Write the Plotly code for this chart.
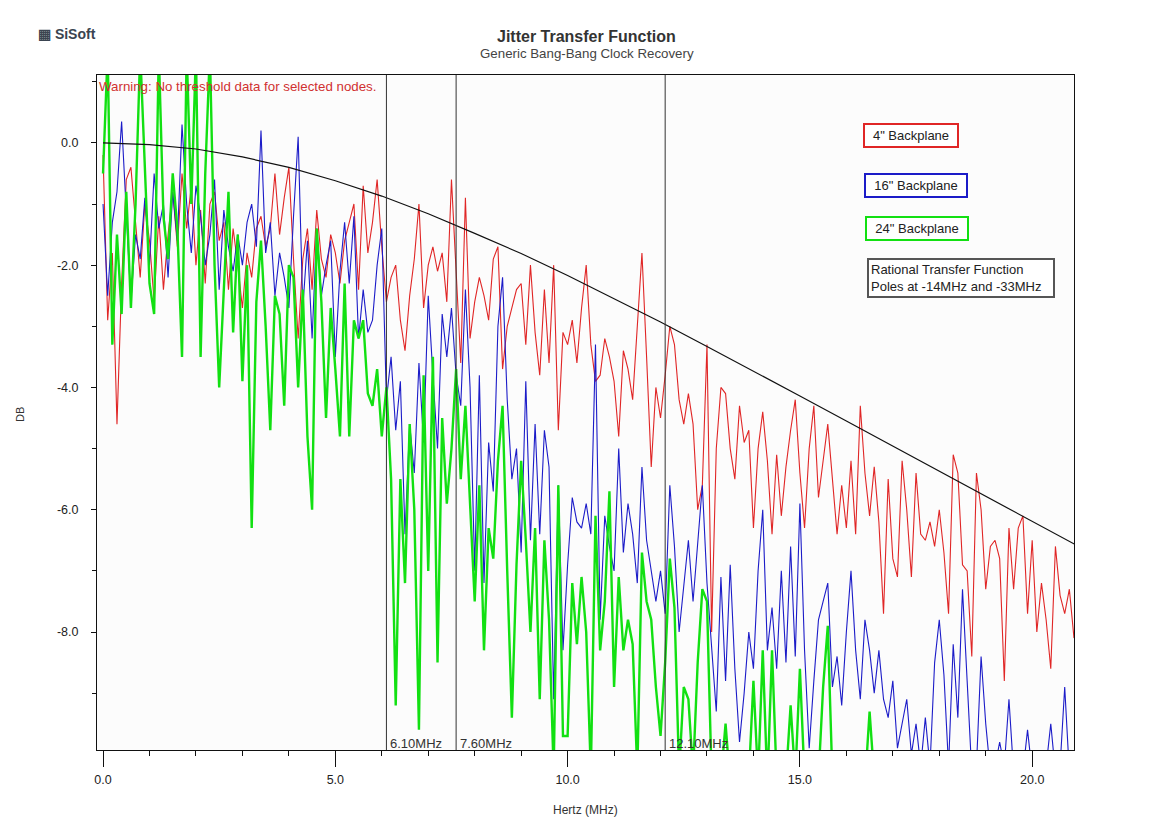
import plotly.graph_objects as go

# ---------------- data ----------------
freq_start_mhz = 0.0
freq_step_mhz = 0.1

red_4in = [
    -0.2, -2.9, -1.8, -4.6, -2.3, -0.6, -0.4, -1.3, -2.2, -1.0,
    -1.6, -2.6, -1.2, -2.4, -1.5, -0.8, -1.7, -0.5, -1.4, -0.7,
    -2.0, -1.1, -2.3, -1.0, -0.8, -1.6, -1.3, -2.4, -1.4, -2.0,
    -2.7, -1.8, -2.2, -1.4, -1.2, -1.7, -1.4, -0.5, -1.5, -0.9,
    -0.4, -1.9, -3.2, -1.9, -1.4, -2.4, -1.1, -1.9, -2.2, -1.5,
    -1.8, -2.3, -1.6, -1.3, -1.0, -2.4, -0.7, -1.8, -1.3, -0.6,
    -1.7, -2.6, -2.2, -2.0, -2.9, -3.4, -2.5, -1.9, -1.0, -2.7,
    -2.0, -1.7, -2.1, -1.8, -2.6, -0.6, -2.0, -3.6, -0.9, -3.2,
    -2.6, -2.2, -2.5, -2.9, -1.9, -1.7, -3.7, -3.0, -2.7, -2.4,
    -2.3, -3.3, -2.0, -3.1, -3.8, -2.4, -3.6, -2.0, -4.7, -3.1,
    -3.3, -2.9, -3.6, -2.7, -2.0, -3.3, -3.9, -3.8, -3.2, -3.5,
    -3.9, -4.8, -3.4, -3.7, -4.2, -3.0, -1.8, -3.5, -5.3, -4.0,
    -4.5, -3.8, -3.0, -3.3, -4.2, -4.6, -4.1, -4.6, -6.0, -5.6,
    -3.3, -8.0, -5.0, -4.0, -4.1, -5.0, -5.5, -4.3, -4.9, -4.7,
    -6.3, -5.0, -4.4, -5.2, -6.4, -5.1, -6.1, -5.3, -4.7, -4.2,
    -5.4, -6.3, -5.0, -4.3, -5.8, -5.2, -4.6, -5.5, -6.4, -5.6,
    -6.3, -5.2, -6.4, -4.3, -5.4, -6.1, -5.3, -6.2, -7.7, -5.5,
    -6.8, -7.1, -5.2, -6.0, -7.1, -5.4, -6.4, -6.5, -6.2, -6.6,
    -6.0, -6.7, -7.7, -5.1, -5.4, -6.9, -7.0, -8.4, -5.4, -6.0,
    -7.3, -6.6, -6.5, -6.8, -8.8, -6.3, -7.3, -6.3, -6.1, -7.7,
    -6.5, -8.0, -7.2, -7.8, -8.6, -6.6, -7.4, -7.7, -7.3, -8.1,
]

blue_16in = [
    -1.0, -2.5, -1.3, -0.8, 0.35, -1.2, -2.6, -1.5, -1.9, -0.9,
    -2.0, -0.5, -1.4, -1.0, -2.2, -0.8, -1.6, 0.3, -1.0, -1.8,
    -0.7, -1.2, -2.0, -1.5, -0.6, -2.4, -1.1, -1.7, -2.1, -1.5,
    -2.0, -1.3, -1.0, -1.7, 0.2, -1.8, -1.3, -2.5, -1.8, -2.2,
    -2.7, -1.2, 0.1, -2.7, -1.6, -3.2, -1.4, -2.5, -2.0, -1.6,
    -3.5, -2.1, -1.3, -2.3, -1.2, -3.2, -2.4, -3.1, -2.9, -2.0,
    -1.4, -4.2, -3.5, -4.7, -3.9, -6.4, -4.6, -5.4, -3.6, -4.9,
    -2.5, -3.8, -5.0, -2.8, -3.5, -2.7, -3.8, -4.3, -2.4, -4.0,
    -7.0, -3.8, -7.2, -4.9, -5.7, -3.0, -2.2, -4.2, -5.5, -5.0,
    -6.7, -3.9, -6.5, -4.6, -6.4, -4.7, -5.3, -9.1, -5.6, -8.3,
    -6.9, -5.8, -6.2, -6.3, -5.9, -6.4, -3.3, -7.8, -6.1, -6.6,
    -7.0, -5.0, -6.7, -5.9, -6.4, -7.2, -5.3, -6.5, -7.0, -7.5,
    -7.0, -7.7, -5.6, -6.6, -8.0, -7.2, -6.5, -7.5, -6.6, -5.6,
    -7.2, -8.2, -9.3, -7.1, -8.8, -6.9, -8.6, -9.8, -9.0, -8.0,
    -8.6, -7.0, -6.0, -8.3, -7.6, -8.6, -7.0, -8.5, -6.6, -8.4,
    -5.9, -8.3, -9.9, -8.8, -7.8, -7.5, -7.2, -8.9, -8.4, -9.2,
    -8.0, -7.0, -8.3, -9.1, -7.8, -8.3, -9.0, -8.3, -9.1, -9.4,
    -8.8, -9.9, -9.5, -9.1, -10.0, -9.5, -10.2, -9.4, -10.2, -8.5,
    -7.8, -8.7, -10.2, -8.2, -9.4, -7.3, -8.8, -10.3, -10.2, -8.4,
    -9.5, -10.3, -10.2, -9.8, -10.2, -9.1, -10.3, -10.2, -10.3, -9.6,
    -10.3, -10.2, -10.3, -10.2, -9.5, -10.3, -10.2, -8.9, -10.3, -10.2,
]

green_24in = [
    -0.5, 1.5, -3.3, -1.5, -2.8, -0.8, -2.7, -1.0, 1.5, -0.5,
    -2.3, -2.8, 1.5, -1.2, -1.9, -0.5, -1.4, -3.5, 1.5, -1.0,
    1.5, -3.5, -0.5, 1.5, -2.0, -4.0, -2.5, -0.8, -3.1, -1.5,
    -3.9, -2.0, -6.3, -2.6, -1.6, -3.0, -4.7, -2.5, -2.8, -4.3,
    -2.0, -2.2, -4.0, -2.4, -4.8, -6.0, -1.4, -2.6, -4.5, -2.7,
    -3.7, -4.8, -2.3, -4.8, -2.9, -3.2, -2.9, -4.1, -4.3, -3.7,
    -4.8, -4.0, -5.5, -9.2, -5.5, -7.2, -4.6, -6.0, -9.6, -3.8,
    -7.0, -3.5, -8.5, -4.5, -5.9, -5.0, -3.7, -5.5, -4.3, -6.0,
    -7.5, -5.6, -8.3, -6.3, -6.8, -5.2, -4.3, -7.0, -9.4, -6.9,
    -5.2, -6.5, -8.0, -6.3, -9.1, -6.5, -7.8, -10.3, -5.6, -9.7,
    -9.7, -7.2, -8.2, -7.1, -8.0, -10.3, -6.1, -8.3, -7.5, -5.7,
    -8.9, -7.1, -8.3, -7.8, -8.2, -10.3, -6.7, -7.5, -7.8, -8.9,
    -9.7, -8.5, -6.8, -7.6, -10.3, -8.9, -9.1, -10.3, -8.5, -7.3,
    -7.5, -10.4, -10.6, -10.4, -9.5, -10.5, -10.6, -10.4, -10.5, -10.4,
    -8.8, -10.4, -8.3, -10.5, -8.3, -10.4, -10.6, -10.4, -9.2, -10.4,
    -8.6, -10.4, -10.6, -10.5, -10.4, -8.9, -7.9, -10.4, -10.6, -10.5,
    -10.6, -10.5, -10.6, -10.4, -10.5, -9.3, -10.4, -10.6, -10.5, -10.6,
]

rational_freq_mhz = [0, 1, 2, 3, 4, 5, 6, 7, 8, 9, 10,
                     11, 12, 13, 14, 15, 16, 17, 18, 19, 20, 21]
rational_db = [0.0, -0.03, -0.10, -0.23, -0.40, -0.62, -0.87, -1.16, -1.48, -1.81, -2.17,
               -2.55, -2.93, -3.33, -3.73, -4.14, -4.55, -4.96, -5.37, -5.78, -6.19, -6.60]

marker_freqs = [6.10, 7.60, 12.10]
marker_labels = ["6.10MHz", "7.60MHz", "12.10MHz"]

x_tick_vals = [0, 5, 10, 15, 20]
x_tick_text = ["0.0", "5.0", "10.0", "15.0", "20.0"]
y_tick_vals = [0, -2, -4, -6, -8]
y_tick_text = ["0.0", "-2.0", "-4.0", "-6.0", "-8.0"]

series_names = ['4" Backplane', '16" Backplane', '24" Backplane']
rational_label = "Rational Transfer Function<br>Poles at -14MHz and -33MHz"

# ---------------- figure ----------------
FONT = "Liberation Sans, Arial, sans-serif"
RED = "#e02626"
BLUE = "#1c1cc8"
GREEN = "#12e012"

OFF = 8  # page body margin of the browser
W, H = 1153 - OFF, 819 - OFF
# plot area in page pixels: x 97..1074, y 75..750
L, T = 97 - OFF, 75 - OFF
R, B = W - (1074 - OFF), H - (750 - OFF)
PW, PH = W - L - R, H - T - B


def px(xp):
    return (xp - OFF - L) / PW


def py(yp):
    return (H - B - (yp - OFF)) / PH


fig = go.Figure()
fig.add_trace(go.Scatter(x0=freq_start_mhz, dx=freq_step_mhz, y=red_4in, mode="lines",
                         line=dict(color=RED, width=1.1), name=series_names[0]))
fig.add_trace(go.Scatter(x0=freq_start_mhz, dx=freq_step_mhz, y=blue_16in, mode="lines",
                         line=dict(color=BLUE, width=1.1), name=series_names[1]))
fig.add_trace(go.Scatter(x0=freq_start_mhz, dx=freq_step_mhz, y=green_24in, mode="lines",
                         line=dict(color=GREEN, width=2.4), name=series_names[2]))
fig.add_trace(go.Scatter(x=rational_freq_mhz, y=rational_db, mode="lines",
                         line=dict(color="#111111", width=1.2), name="Rational"))

for f in marker_freqs:
    fig.add_shape(type="line", xref="x", yref="paper", x0=f, x1=f, y0=0, y1=1,
                  line=dict(color="#333333", width=1))

annotations = []
for f, lab in zip(marker_freqs, marker_labels):
    annotations.append(dict(xref="x", yref="paper", x=f, y=0, xanchor="left", yanchor="bottom",
                            xshift=2, yshift=-3, text=lab, showarrow=False,
                            font=dict(family=FONT, size=13, color="#333333")))

annotations += [
    dict(xref="paper", yref="paper", x=0, y=1, xanchor="left", yanchor="top", yshift=-2,
         text="Warning: No threshold data for selected nodes.", showarrow=False,
         font=dict(family=FONT, size=13.3, color="#d03030")),
    dict(xref="paper", yref="paper", x=px(586), y=py(36), xanchor="center", yanchor="middle",
         text="<b>Jitter Transfer Function</b>", showarrow=False,
         font=dict(family=FONT, size=16, color="#333333")),
    dict(xref="paper", yref="paper", x=px(587), y=py(53), xanchor="center", yanchor="middle",
         text="Generic Bang-Bang Clock Recovery", showarrow=False,
         font=dict(family=FONT, size=13.3, color="#444444")),
    dict(xref="paper", yref="paper", x=px(36), y=py(34), xanchor="left", yanchor="middle",
         text="<b>▦ SiSoft</b>", showarrow=False,
         font=dict(family=FONT, size=14, color="#3a4450")),
    dict(xref="paper", yref="paper", x=px(20), y=py(415), xanchor="center", yanchor="middle",
         text="DB", textangle=-90, showarrow=False,
         font=dict(family=FONT, size=11, color="#333333")),
    dict(xref="paper", yref="paper", x=px(585), y=py(810), xanchor="center", yanchor="middle",
         text="Hertz (MHz)", showarrow=False,
         font=dict(family=FONT, size=12, color="#333333")),
]

legend_boxes = [
    (series_names[0], RED, 863, 135.5, 96, 25),
    (series_names[1], BLUE, 864, 185.5, 104, 25),
    (series_names[2], GREEN, 865, 228.5, 104, 25),
]
for text, col, x_left, y_mid, w, h in legend_boxes:
    annotations.append(dict(xref="paper", yref="paper", x=px(x_left), y=py(y_mid),
                            xanchor="left", yanchor="middle", text=text, showarrow=False,
                            bordercolor=col, borderwidth=2, borderpad=1,
                            width=w - 6, height=h - 6, align="center", bgcolor="white",
                            font=dict(family=FONT, size=13, color="#222222")))
annotations.append(dict(xref="paper", yref="paper", x=px(867), y=py(277.5),
                        xanchor="left", yanchor="middle", text=rational_label, showarrow=False,
                        bordercolor="#555555", borderwidth=2, borderpad=2,
                        width=188 - 8, align="left", bgcolor="white",
                        font=dict(family=FONT, size=13, color="#222222")))

fig.update_layout(
    width=W, height=H, autosize=False,
    margin=dict(l=L, r=R, t=T, b=B),
    paper_bgcolor="white", plot_bgcolor="#fcfcfc",
    showlegend=False,
    annotations=annotations,
    font=dict(family=FONT, size=12, color="#222222"),
)
fig.update_xaxes(range=[-0.13, 20.9], showgrid=False, zeroline=False,
                 showline=True, linecolor="#111111", linewidth=1, mirror=True,
                 ticks="outside", ticklen=16, tickcolor="#111111",
                 tickmode="array", tickvals=x_tick_vals, ticktext=x_tick_text,
                 ticklabelstandoff=2,
                 minor=dict(tickmode="linear", tick0=0, dtick=1, ticks="outside",
                            ticklen=5, tickcolor="#111111", showgrid=False),
                 tickfont=dict(family=FONT, size=12.5, color="#222222"))
fig.update_yaxes(range=[-9.93, 1.11], showgrid=False, zeroline=False,
                 showline=True, linecolor="#111111", linewidth=1, mirror=True,
                 ticks="outside", ticklen=5, tickcolor="#111111",
                 tickmode="array", tickvals=y_tick_vals, ticktext=y_tick_text,
                 ticklabelstandoff=10,
                 minor=dict(tickmode="linear", tick0=0, dtick=1, ticks="outside",
                            ticklen=4, tickcolor="#111111", showgrid=False),
                 tickfont=dict(family=FONT, size=12.5, color="#222222"))

fig.write_html("out.html")
